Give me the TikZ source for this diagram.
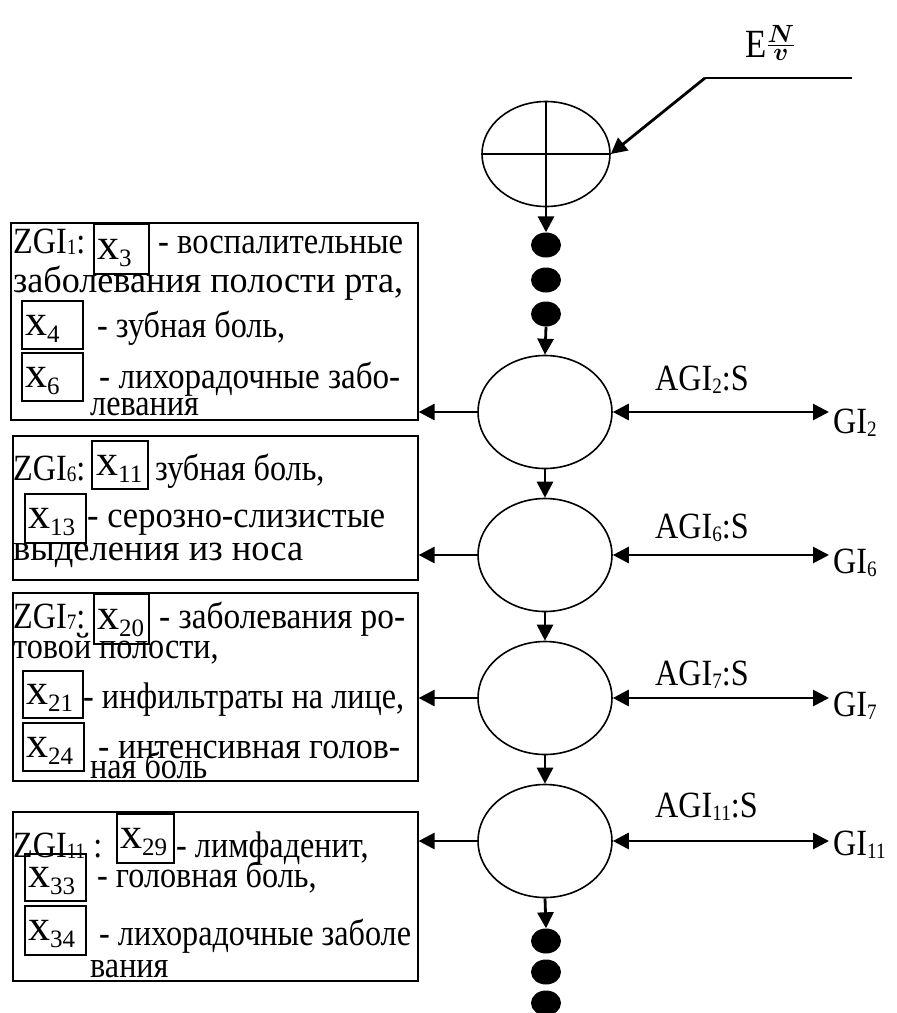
\documentclass[tikz,border=0pt]{standalone}
\usepackage{amsmath}
\usepackage{graphicx}
\usepackage{fontspec}
\setmainfont[FakeStretch=0.87]{Liberation Serif}
\newfontfamily\xfont{Liberation Serif}
\usetikzlibrary{shapes.geometric,arrows.meta}
% small lowered index used after ZGI, AGI and GI
\newcommand{\lowidx}[2][3pt]{\raisebox{-#1}{\fontsize{22}{22}\selectfont #2}}
% variable name x with its number, set larger inside the small frames
\newcommand{\xlab}[1]{{\xfont\fontsize{44}{44}\selectfont x\raisebox{-7pt}{\fontsize{25}{25}\selectfont #1}}}
% a line widened to a given width
\newcommand{\hfit}[2]{\resizebox{#1}{\height}{#2}}

\begin{document}
\begin{tikzpicture}[x=1pt,y=-1pt,
  txt/.style={anchor=base west,inner sep=0pt,font=\fontsize{37}{42}\selectfont},
  xtxt/.style={anchor=base west,inner sep=0pt},
  panel/.style={draw,line width=1.6pt,anchor=north west,inner sep=0pt},
  xbox/.style={draw,line width=1.6pt,anchor=north west,inner sep=0pt},
  state/.style={draw,ellipse,line width=1.6pt,inner sep=0pt,minimum width=134pt,minimum height=113pt},
  dot/.style={fill,ellipse,inner sep=0pt,minimum width=30pt,minimum height=25pt},
  arr/.style={line width=2.8pt,-{Triangle[length=16pt,width=16pt]}},
  darr/.style={line width=2.8pt,{Triangle[length=16pt,width=16pt]}-{Triangle[length=16pt,width=16pt]}}]
\useasboundingbox (0,0) rectangle (897,1013);

% input line with its label
\node[anchor=base west,inner sep=0pt,font=\fontsize{40}{44}\selectfont] (elab) at (745,57)
  {E\raisebox{5pt}{$\frac{\boldsymbol{N}}{\boldsymbol{v}}$}};
\coordinate (kin) at (852,78);
\coordinate (kbend) at (705,78);

% summing node and the chain of states
\node[state,minimum width=128pt,minimum height=105pt] (e0) at (546,154) {};
\draw[line width=1.4pt] (e0.north) -- (e0.south) (e0.west) -- (e0.east);

\node[dot] (d1) at (546,245) {};
\node[dot] (d2) at (546,280) {};
\node[dot] (d3) at (546,314) {};

\node[state] (e1) at (545,412) {};
\node[state] (e2) at (545,555) {};
\node[state] (e3) at (545,698) {};
\node[state] (e4) at (545,841) {};

\node[dot] (d4) at (546,941) {};
\node[dot] (d5) at (546,972) {};
\node[dot] (d6) at (546,1003) {};

\draw[line width=2pt] (kin) -- (kbend);
\draw[arr] (kbend) -- (e0.east);
\draw[arr] (e0.south) -- (d1.north);
\draw[arr] (d3.south) -- (e1.north);
\draw[arr] (e1.south) -- (e2.north);
\draw[arr] (e2.south) -- (e3.north);
\draw[arr] (e3.south) -- (e4.north);
\draw[arr] (e4.south) -- (d4.north);

% panels on the left
\node[panel,minimum width=407pt,minimum height=197pt] (b1) at (10,222) {};
\node[panel,minimum width=405pt,minimum height=144pt] (b2) at (12,435) {};
\node[panel,minimum width=405pt,minimum height=188pt] (b3) at (12,592) {};
\node[panel,minimum width=405pt,minimum height=169pt] (b4) at (12,811) {};

\draw[arr] (e1.west) -- (e1.west -| b1.east);
\draw[arr] (e2.west) -- (e2.west -| b2.east);
\draw[arr] (e3.west) -- (e3.west -| b3.east);
\draw[arr] (e4.west) -- (e4.west -| b4.east);

% outputs on the right
\coordinate (rx) at (829,0);
\draw[darr] (e1.east) -- (e1.east -| rx);
\draw[darr] (e2.east) -- (e2.east -| rx);
\draw[darr] (e3.east) -- (e3.east -| rx);
\draw[darr] (e4.east) -- (e4.east -| rx);

\node[txt] (a1) at (655,390) {AGI\lowidx{2}:S};
\node[txt] (a2) at (655,538) {AGI\lowidx{6}:S};
\node[txt] (a3) at (655,685) {AGI\lowidx{7}:S};
\node[txt] (a4) at (655,817) {AGI\lowidx{11}:S};

\node[txt] (g1) at (833,433) {GI\lowidx{2}};
\node[txt] (g2) at (833,573) {GI\lowidx{6}};
\node[txt] (g3) at (833,716) {GI\lowidx{7}};
\node[txt] (g4) at (833,855) {GI\lowidx{11}};

% panel 1
\node[txt] (p11) at (13,253) {ZGI\lowidx[1pt]{1}:};
\node[xbox,minimum width=55pt,minimum height=50pt] (x3) at (93,223) {};
\node[xtxt] (x3t) at (97,259) {\xlab{3}};
\node[txt] (p12) at (158,253) {\hfit{245pt}{- воспалительные}};
\node[txt] (p13) at (13,292) {\hfit{390pt}{заболевания полости рта,}};
\node[xbox,minimum width=61pt,minimum height=48pt] (x4) at (21,300) {};
\node[xtxt] (x4t) at (25,335) {\xlab{4}};
\node[txt] (p14) at (97,337) {- зубная боль,};
\node[xbox,minimum width=61pt,minimum height=48pt] (x6) at (21,352) {};
\node[xtxt] (x6t) at (25,387) {\xlab{6}};
\node[txt] (p15) at (99,388) {\hfit{301pt}{- лихорадочные забо-}};
\node[txt] (p16) at (90,415) {левания};

% panel 2
\node[txt] (p21) at (13,480) {ZGI\lowidx[1pt]{6}:};
\node[xbox,minimum width=56pt,minimum height=48pt] (x11) at (91,440) {};
\node[xtxt] (x11t) at (96,475) {\xlab{11}};
\node[txt] (p22) at (155,480) {зубная боль,};
\node[xbox,minimum width=61pt,minimum height=49pt] (x13) at (24,493) {};
\node[xtxt] (x13t) at (28,528) {\xlab{13}};
\node[txt] (p23) at (87,527) {\hfit{298pt}{- серозно-слизистые}};
\node[txt] (p24) at (13,560) {\hfit{290pt}{выделения из носа}};

% panel 3
\node[txt] (p31) at (13,628) {ZGI\lowidx[1pt]{7}:};
\node[xbox,minimum width=55pt,minimum height=50pt] (x20) at (93,593) {};
\node[xtxt] (x20t) at (97,629) {\xlab{20}};
\node[txt] (p32) at (159,628) {\hfit{246pt}{- заболевания ро-}};
\node[txt] (p33) at (13,658) {товой полости,};
\node[xbox,minimum width=60pt,minimum height=47pt] (x21) at (22,670) {};
\node[xtxt] (x21t) at (26,704) {\xlab{21}};
\node[txt] (p34) at (83,708) {- инфильтраты на лице,};
\node[xbox,minimum width=61pt,minimum height=48pt] (x24) at (22,722) {};
\node[xtxt] (x24t) at (26,757) {\xlab{24}};
\node[txt] (p35) at (98,758) {\hfit{302pt}{- интенсивная голов-}};
\node[txt] (p36) at (90,778) {ная боль};

% panel 4
\node[txt] (p41) at (13,857) {ZGI\lowidx[1pt]{11} :};
\node[xbox,minimum width=57pt,minimum height=49pt] (x29) at (116,813) {};
\node[xtxt] (x29t) at (120,848) {\xlab{29}};
\node[txt] (p42) at (176,857) {- лимфаденит,};
\node[xbox,minimum width=61pt,minimum height=47pt] (x33) at (24,853) {};
\node[xtxt] (x33t) at (28,887) {\xlab{33}};
\node[txt] (p43) at (97,887) {- головная боль,};
\node[xbox,minimum width=61pt,minimum height=49pt] (x34) at (24,905) {};
\node[xtxt] (x34t) at (28,940) {\xlab{34}};
\node[txt] (p44) at (99,945) {- лихорадочные заболе};
\node[txt] (p45) at (90,977) {вания};
\end{tikzpicture}
\end{document}
